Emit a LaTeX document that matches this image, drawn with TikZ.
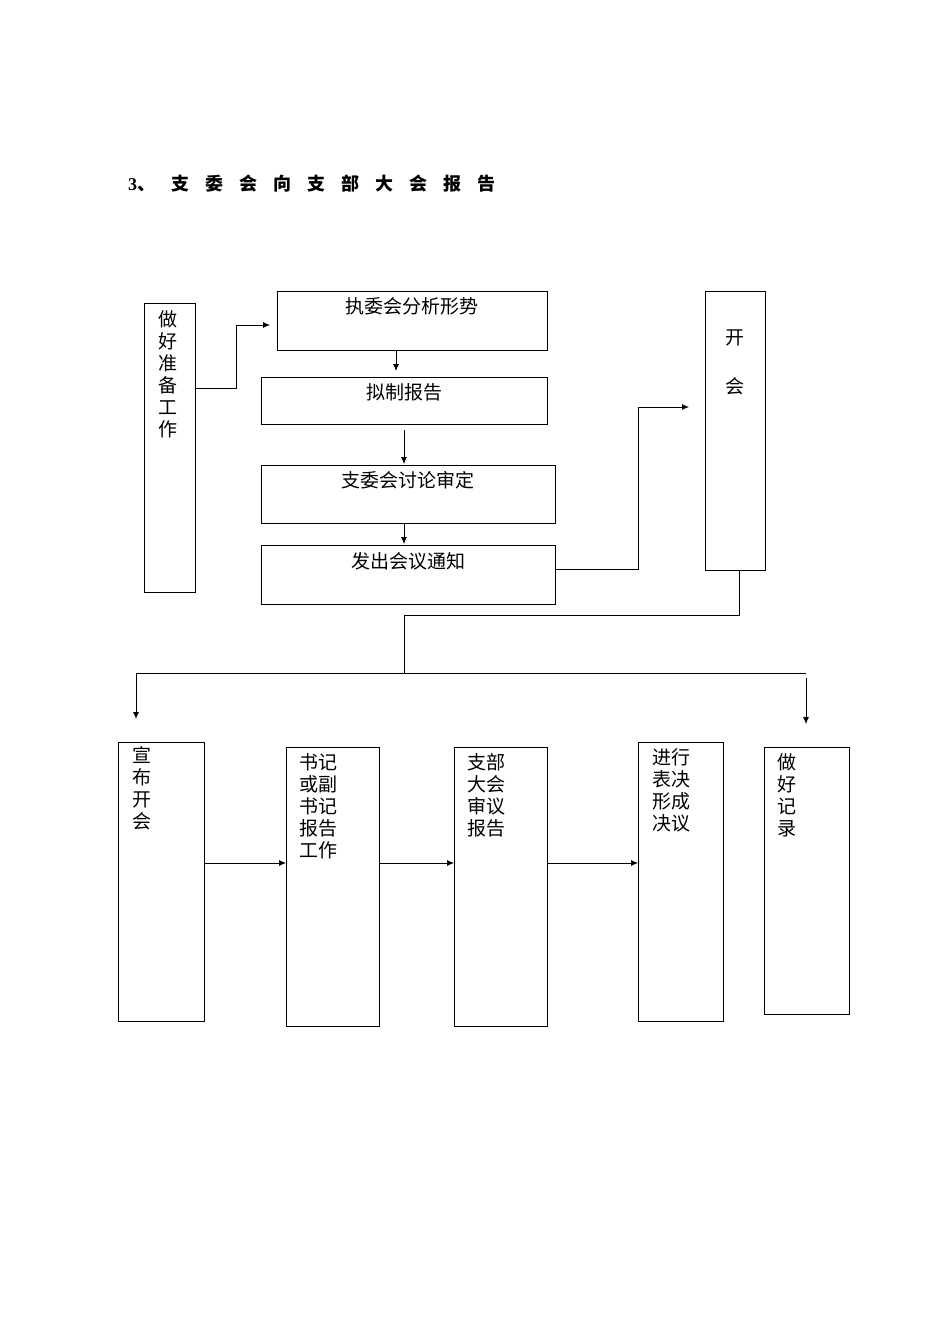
\documentclass[tikz,border=0pt]{standalone}
\usepackage{fontspec}
\setmainfont{Liberation Serif}
\newfontfamily\cjk{Noto Sans CJK SC}
\newcommand{\tg}{\hspace{16pt}}
\begin{document}
\begin{tikzpicture}[x=1pt,y=-1pt,
  bx/.style={draw,line width=0.8pt},
  tx/.style={font=\cjk\fontsize{19}{22}\selectfont,inner sep=0pt,anchor=north,align=center},
  ln/.style={line width=0.8pt},
  ar/.style={line width=0.8pt,-{Latex[length=7pt,width=6pt]}}]
\useasboundingbox (0,0) rectangle (950,1344);
\usetikzlibrary{arrows.meta}
\node[font=\bfseries\fontsize{18}{20}\selectfont,anchor=west,inner sep=0pt] (title) at (128,184) {3\cjk 、\tg 支\tg 委\tg 会\tg 向\tg 支\tg 部\tg 大\tg 会\tg 报\tg 告};
\draw[bx] (144,303) rectangle (195,592); \coordinate (a) at (195,388);
\node[tx] (ta) at (168,310) {做\\好\\准\\备\\工\\作};
\draw[bx] (277,291) rectangle (547,350); \node[tx] (tb) at (412,297) {执委会分析形势};
\draw[bx] (261,377) rectangle (547,424); \node[tx] (tc) at (404,383) {拟制报告};
\draw[bx] (261,465) rectangle (555,523); \node[tx] (td) at (408,471) {支委会讨论审定};
\draw[bx] (261,545) rectangle (555,604); \node[tx] (te) at (408,552) {发出会议通知};
\draw[bx] (705,291) rectangle (765,570); \node[tx] (tf1) at (735,330) {开}; \node[tx] (tf2) at (735,377) {会};
\draw[bx] (118,742) rectangle (204,1021); \node[tx,anchor=north west] (g) at (132,746) {宣\\布\\开\\会};
\draw[bx] (286,747) rectangle (379,1026); \node[tx,anchor=north west] (h) at (299,753) {书记\\或副\\书记\\报告\\工作};
\draw[bx] (454,747) rectangle (547,1026); \node[tx,anchor=north west] (i) at (467,753) {支部\\大会\\审议\\报告};
\draw[bx] (638,742) rectangle (723,1021); \node[tx,anchor=north west] (j) at (652,748) {进行\\表决\\形成\\决议};
\draw[bx] (764,747) rectangle (849,1014); \node[tx,anchor=north west] (k) at (777,753) {做\\好\\记\\录};
\draw[ar] (a) -- (236,388) -- (236,325) -- (270,325);
\draw[ar] (396,350) -- (396,371);
\draw[ar] (404,430) -- (404,464);
\draw[ar] (404,523) -- (404,544);
\draw[ar] (555,569) -- (638,569) -- (638,407) -- (689,407);
\draw[ln] (739,570) -- (739,615) -- (404,615) -- (404,673);
\draw[ln] (136,673) -- (806,673);
\draw[ar] (136,673) -- (136,719);
\draw[ar] (806,678) -- (806,724);
\draw[ar] (204,863) -- (286,863);
\draw[ar] (379,863) -- (454,863);
\draw[ar] (547,863) -- (638,863);
\end{tikzpicture}
\end{document}
